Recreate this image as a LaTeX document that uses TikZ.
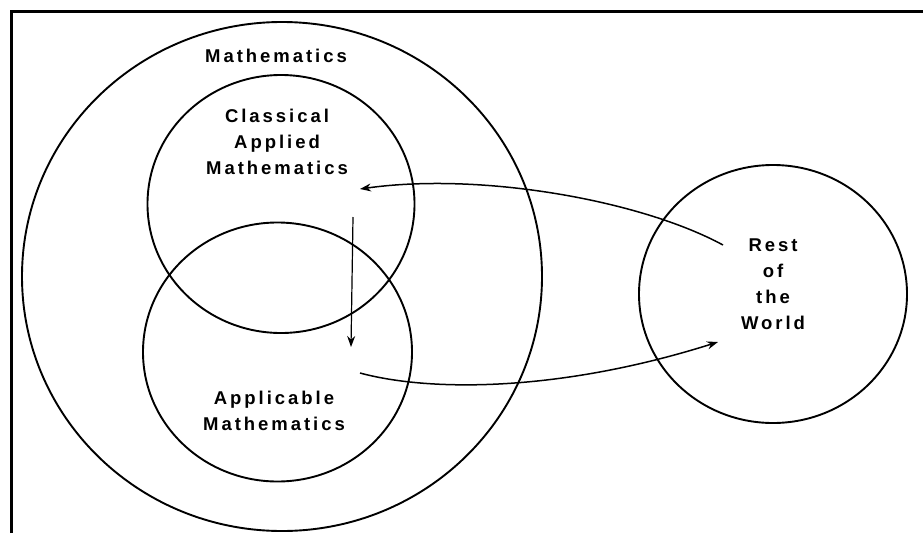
\documentclass[tikz,border=0pt]{standalone}
\usepackage{fontspec}
\setmainfont{Liberation Sans}
\usetikzlibrary{shapes.geometric,arrows.meta}
\tikzset{
  ring/.style={draw=black, line width=1.9pt, ellipse, inner sep=0pt},
  lbl/.style={align=center, inner sep=0pt, font=\fontsize{18.5}{26}\selectfont\bfseries\addfontfeature{LetterSpace=16}},
  conn/.style={line width=1.5pt, -{Stealth[length=11pt,width=8pt]}},
  frame/.style={line width=3pt}
}
\begin{document}
\begin{tikzpicture}[x=1pt,y=-1pt]
\useasboundingbox (0,0) rectangle (923,533);
\fill[white] (0,0) rectangle (923,533);
% frame (left and top edges)
\coordinate (fa) at (11,533);
\coordinate (fb) at (11,11);
\coordinate (fc) at (923,11);
\draw[frame] (fa) -- (fb) -- (fc);
% circles
\node[ring, minimum width=520pt, minimum height=509pt] (math) at (282,276.5) {};
\node[ring, minimum width=267pt, minimum height=258pt] (cam) at (281,204) {};
\node[ring, minimum width=269pt, minimum height=259pt] (am) at (277.5,352) {};
\node[ring, minimum width=268pt, minimum height=258pt] (rw) at (773,294) {};
% labels
\node[lbl] (tmath) at (276,56) {Mathematics};
\node[lbl] (tcam) at (277,142) {Classical\\Applied\\Mathematics};
\node[lbl] (tam) at (274,411) {Applicable\\Mathematics};
\node[lbl] (trw) at (773,284) {Rest\\of\\the\\World};
% arrow end points
\coordinate (a1s) at (723,245);
\coordinate (a1e) at (360,189);
\coordinate (a2s) at (360,373);
\coordinate (a2e) at (718,342);
\coordinate (a3s) at (353,217);
\coordinate (a3e) at (351,347);
% arrows
\draw[conn] (a1s) .. controls (640,200) and (480,172) .. (a1e);
\draw[conn] (a2s) .. controls (430,392) and (560,392) .. (a2e);
\draw[conn, line width=1.2pt] (a3s) -- (a3e);
\end{tikzpicture}
\end{document}
